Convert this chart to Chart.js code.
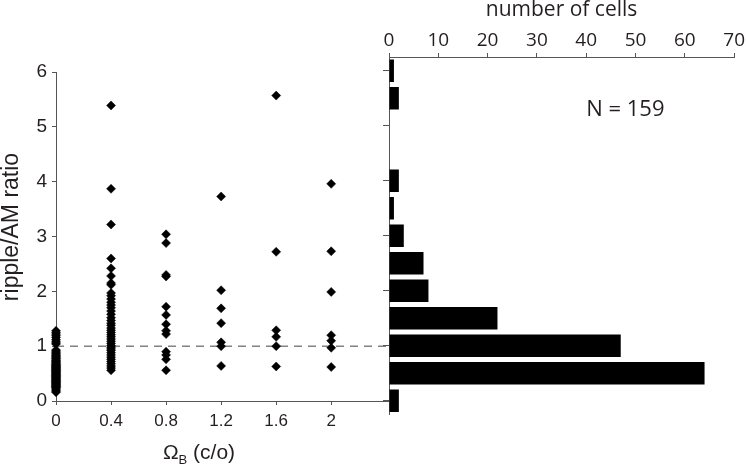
<!DOCTYPE html>
<html>
<head>
<meta charset="utf-8">
<script src="https://cdn.jsdelivr.net/npm/chart.js"></script>
<style>
  body { margin: 0; background: #fff; }
  #wrap { position: relative; width: 746px; height: 467px; }
  #scatterBox { position: absolute; left: 0; top: 0; width: 395px; height: 467px; }
  #histBox { position: absolute; left: 380px; top: 0; width: 366px; height: 430px; }
</style>
</head>
<body>
<div id="wrap">
  <div id="scatterBox"><canvas id="scatterChart"></canvas></div>
  <div id="histBox"><canvas id="histChart"></canvas></div>
</div>
<script>
// ripple/AM ratio of each cell, one list per Omega_B value
const omegaValues = [0, 0.4, 0.8, 1.2, 1.6, 2];
const ratioAt0 = [1.28, 1.25, 1.22, 1.19, 1.16, 1.12, 1.09, 1.06, 1.04,
  0.93, 0.91, 0.89, 0.87, 0.85, 0.83, 0.81, 0.80, 0.78, 0.77, 0.75, 0.74, 0.72, 0.71, 0.70,
  0.68, 0.67, 0.66, 0.65, 0.64, 0.63, 0.62, 0.61, 0.60, 0.59, 0.58, 0.57, 0.56, 0.55, 0.54,
  0.53, 0.52, 0.51, 0.50, 0.49, 0.48, 0.47, 0.46, 0.45, 0.44, 0.43, 0.42, 0.41, 0.40, 0.39,
  0.38, 0.37, 0.36, 0.35, 0.34, 0.33, 0.32, 0.31, 0.30, 0.29, 0.28, 0.27, 0.26, 0.25, 0.24,
  0.22, 0.20, 0.18, 0.16];
const ratioAt04 = [5.39, 3.87, 3.22, 2.60, 2.42, 2.28, 2.15, 2.12, 1.97, 1.92, 1.86, 1.80,
  1.75, 1.70, 1.64, 1.58, 1.52, 1.47, 1.42, 1.38, 1.33, 1.29, 1.25, 1.21, 1.17, 1.13, 1.09,
  1.05, 1.01, 0.98, 0.95, 0.92, 0.88, 0.84, 0.80, 0.76, 0.72, 0.68, 0.64, 0.60, 0.56];
const ratioAt08 = [3.04, 2.88, 2.30, 2.27, 1.72, 1.57, 1.40, 1.28, 1.22, 0.90, 0.84, 0.76, 0.56];
const ratioAt12 = [3.73, 2.02, 1.69, 1.42, 1.07, 1.00, 0.64];
const ratioAt16 = [5.57, 2.72, 1.29, 1.17, 1.00, 0.63];
const ratioAt2 = [3.96, 2.73, 1.99, 1.20, 1.10, 0.97, 0.62];
const ratioGroups = [ratioAt0, ratioAt04, ratioAt08, ratioAt12, ratioAt16, ratioAt2];

const omegaTicks = [0, 0.4, 0.8, 1.2, 1.6, 2];
const ratioTicks = [0, 1, 2, 3, 4, 5, 6];
const refRatio = 1;

// histogram of the ratio
const binCenters = [0, 0.5, 1, 1.5, 2, 2.5, 3, 3.5, 4, 4.5, 5, 5.5, 6];
const cellCounts = [2, 64, 47, 22, 8, 7, 3, 1, 2, 0, 0, 2, 1];
const countTicks = [0, 10, 20, 30, 40, 50, 60, 70];
const totalCells = 159;

const axisColor = '#555';
const textColor = '#231f20';
const omegaMax = 2.42;

const scatterPoints = [];
omegaValues.forEach((om, i) => {
    ratioGroups[i].forEach(r => scatterPoints.push({ x: om, y: r }));
});

// axis titles of the scatter panel (x title has a subscript B)
const scatterTitles = {
    id: 'scatterTitles',
    afterDraw(chart) {
        const ctx = chart.ctx;
        const big = '21px "Liberation Sans"';
        const small = '13px "Liberation Sans"';
        ctx.save();
        ctx.fillStyle = textColor;
        ctx.textBaseline = 'alphabetic';
        ctx.font = big;
        const wOmega = ctx.measureText('Ω').width;
        const wRest = ctx.measureText(' (c/o)').width;
        ctx.font = small;
        const wB = ctx.measureText('B').width;
        let x = 199 - (wOmega + wB + wRest) / 2;
        const y = 459;
        ctx.textAlign = 'left';
        ctx.font = big;
        ctx.fillText('Ω', x, y);
        x += wOmega;
        ctx.font = small;
        ctx.fillText('B', x, y + 5);
        x += wB;
        ctx.font = big;
        ctx.fillText(' (c/o)', x, y);

        // y title, rotated
        ctx.translate(12, 227);
        ctx.rotate(-Math.PI / 2);
        ctx.font = '23px "Liberation Sans"';
        ctx.textAlign = 'center';
        ctx.textBaseline = 'middle';
        ctx.fillText('ripple/AM ratio', 0, 0);
        ctx.restore();
    }
};

new Chart(document.getElementById('scatterChart'), {
    type: 'scatter',
    data: {
        datasets: [{
            data: scatterPoints,
            pointStyle: 'rectRot',
            pointRadius: 4.5,
            backgroundColor: '#000',
            borderColor: '#000',
            borderWidth: 0.5,
            clip: false
        }, {
            type: 'line',
            data: [{ x: 0, y: refRatio }, { x: omegaMax, y: refRatio }],
            borderColor: '#444',
            borderWidth: 1,
            borderDash: [8, 6],
            pointRadius: 0
        }]
    },
    options: {
        animation: false,
        responsive: true,
        maintainAspectRatio: false,
        layout: { padding: { top: 72, right: 6, left: 0, bottom: 0 } },
        plugins: { legend: { display: false }, tooltip: { enabled: false } },
        scales: {
            x: {
                type: 'linear', min: 0, max: omegaMax,
                afterBuildTicks: s => { s.ticks = omegaTicks.map(v => ({ value: v })); },
                afterFit: s => { s.height = 66; },
                grid: { drawOnChartArea: false, tickLength: 4, color: axisColor },
                border: { color: axisColor },
                ticks: { font: { family: 'Liberation Sans', size: 17 }, color: textColor, padding: 6, maxRotation: 0, callback: v => String(v) }
            },
            y: {
                type: 'linear', min: 0, max: 6,
                afterBuildTicks: s => { s.ticks = ratioTicks.map(v => ({ value: v })); },
                afterFit: s => { s.width = 56; },
                grid: { drawOnChartArea: false, tickLength: 4, color: axisColor },
                border: { color: axisColor },
                ticks: { font: { family: 'Liberation Sans', size: 19 }, color: textColor, padding: 5 }
            }
        }
    },
    plugins: [scatterTitles]
});

// "N = 159" label
const totalLabel = {
    id: 'totalLabel',
    afterDraw(chart) {
        const ctx = chart.ctx;
        ctx.save();
        ctx.fillStyle = textColor;
        ctx.font = '22px "Open Sans"';
        ctx.textAlign = 'left';
        ctx.textBaseline = 'middle';
        ctx.fillText('N = ' + totalCells, chart.scales.x.getPixelForValue(40), chart.scales.y.getPixelForValue(5.3));
        ctx.restore();
    }
};

new Chart(document.getElementById('histChart'), {
    type: 'bar',
    data: {
        datasets: [{
            data: binCenters.map((c, i) => ({ x: cellCounts[i], y: c })),
            backgroundColor: '#000',
            borderWidth: 0,
            barPercentage: 0.81,
            categoryPercentage: 1
        }]
    },
    options: {
        indexAxis: 'y',
        animation: false,
        responsive: true,
        maintainAspectRatio: false,
        layout: { padding: { top: 0, right: 11, bottom: 15.5, left: 0 } },
        plugins: { legend: { display: false }, tooltip: { enabled: false } },
        scales: {
            x: {
                type: 'linear', position: 'top', min: 0, max: 70,
                afterBuildTicks: s => { s.ticks = countTicks.map(v => ({ value: v })); },
                afterFit: s => { s.height = 57; },
                grid: { drawOnChartArea: false, tickLength: 4, color: axisColor },
                border: { color: axisColor },
                ticks: { font: { family: 'Open Sans', size: 19 }, color: textColor, padding: 1, maxRotation: 0 },
                title: { display: true, text: 'number of cells', color: textColor, font: { family: 'Open Sans', size: 21, lineHeight: 1 }, padding: { top: 0, bottom: 0 } }
            },
            y: {
                type: 'linear', min: -0.25, max: 6.25, offset: false,
                afterBuildTicks: s => { s.ticks = ratioTicks.map(v => ({ value: v })); },
                afterFit: s => { s.width = 9; },
                grid: { drawOnChartArea: false, tickLength: 6, color: axisColor, offset: false },
                border: { color: axisColor },
                ticks: { display: false }
            }
        }
    },
    plugins: [totalLabel]
});
</script>
</body>
</html>
